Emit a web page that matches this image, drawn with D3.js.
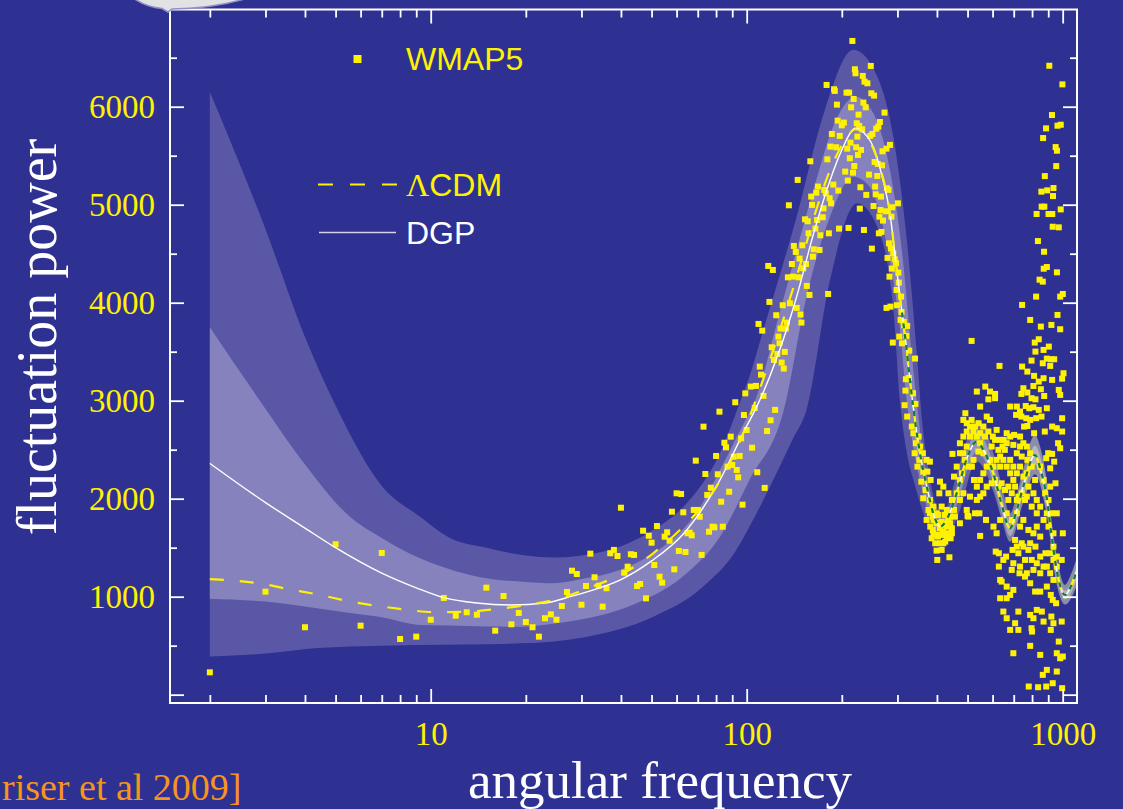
<!DOCTYPE html>
<html>
<head>
<meta charset="utf-8">
<script src="https://cdn.jsdelivr.net/npm/d3@7"></script>
<style>
  html, body { margin: 0; padding: 0; background: #2e3192; }
  svg { display: block; }
</style>
</head>
<body>
<svg id="chart" width="1123" height="809"></svg>
<script>
// ---------------- data ----------------
// WMAP5 band powers, one value per multipole for l = 2..100
const lowEll = d3.range(2, 101);
const wmapLowPower = [228,1051,688,1535,704,1446,568,592,765,987,806,841,816,1092,653,1007,718,834,742,688,
  592,780,820,765,905,1048,1265,1231,918,1109,1439,1198,1112,898,1086,1443,1477,1415,1908,1245,
  1306,1433,1426,1109,1130,1673,983,1622,1551,1323,1721,1204,1143,1612,1657,1571,1867,1279,2055,1466,
  2048,1861,1456,1647,1653,1626,1885,2388,1885,1816,1426,2735,2252,2038,1663,2112,1714,1708,2436,2249,
  2888,1969,1714,2571,2524,2327,2071,2633,2344,2429,2984,2293,2218,2436,2616,1939,2854,3075,2701];

// WMAP5 [l, power] around the first acoustic peak
const wmapPeak = [[216,6671],[247,6416],[220,6382],[221,6341],[233,6314],[241,6239],[236,6256],[179,6222],[189,6178],[190,6161],
  [207,6144],[211,6144],[248,6137],[253,6113],[218,6079],[234,6042],[193,6021],[238,5994],[214,5994],[273,5940],[226,5919],
  [194,5858],[203,5838],[223,5831],[227,5804],[200,5810],[264,5844],[261,5797],[257,5776],[250,5722],[246,5702],[186,5722],
  [197,5702],[224,5695],[232,5770],[213,5633],[184,5593],[192,5586],[208,5572],[222,5586],[230,5559],[284,5610],[277,5572],
  [269,5545],[180,5463],[159,5443],[212,5474],[225,5508],[254,5436],[260,5416],[268,5402],[219,5395],[205,5338],[217,5327],
  [244,5307],[259,5293],[209,5246],[145,5253],[168,5185],[176,5151],[188,5205],[229,5178],[255,5185],[278,5168],[281,5151],
  [166,5123],[178,5117],[183,5066],[160,5083],[195,5144],[239,5100],[256,5106],[266,5083],[136,4994],[161,4998],[175,4963],
  [185,5014],[301,5014],[289,4974],[252,4987],[265,4946],[276,4933],[287,4878],[153,4851],[156,4831],[167,4844],[174,4872],
  [228,4960],[263,4878],[270,4838],[157,4708],[165,4756],[171,4688],[182,4708],[196,4756],[210,4763],[235,4742],[262,4708],
  [267,4722],[282,4606],[141,4579],[150,4586],[163,4545],[170,4538],[143,4518],[286,4555],[291,4504],[249,4552],[162,4470],
  [147,4450],[279,4457],[294,4443],[297,4402],[139,4395],[154,4395],[117,4375],[121,4334],[151,4351],[288,4348],[140,4266],
  [146,4259],[135,4259],[283,4266],[302,4307],[155,4171],[158,4079],[181,4089],[303,4205],[298,4130],[118,4008],[130,3974],
  [137,3994],[144,3947],[308,4062],[277,3947],[285,3960],[299,3974],[124,3872],[148,3879],[309,3906],[307,3824],[314,3804],
  [109,3783],[134,3797],[149,3797],[315,3770],[112,3715],[128,3736],[133,3736],[322,3763],[320,3661],[304,3654],[290,3593],
  [310,3586],[126,3654],[120,3545],[127,3586],[132,3498],[125,3477],[122,3416],[327,3511],[341,3430],[129,3389],[110,3348],
  [131,3328],[111,3266],[319,3219],[326,3232],[103,3144],[107,3151],[113,3049],[318,3103],[336,3076],[106,2926],[123,2906],
  [316,2954],[342,2967],[104,2520],[108,2270],[114,2110],[116,2690],[119,2800]];

// WMAP5 [l, power] beyond the first peak
const wmapHigh = [
  [322,2838],[333,2736],[337,2668],[350,2634],[343,2566],[354,2532],[340,2464],[361,2464],[352,2396],[371,2396],[380,2378],
  [347,2327],[362,2276],[373,2276],[357,2174],[382,2191],[368,2089],[362,2004],[380,1987],[376,1885],[371,1783],[388,1817],
  [381,1715],[390,1647],[385,1596],[403,1613],[419,1630],[435,1647],[409,1698],[430,1715],[446,1698],[399,1470],[414,1477],
  [438,1402],[401,1375],[424,1834],[440,1817],[414,1919],[430,1885],[407,2055],[419,2123],[435,2055],[409,2174],[453,1885],
  [446,1987],[390,1919],[399,1851],[385,1885],[404,1749],[419,1545],[380,1851],[390,1783],[399,1749],[414,1766],[424,1732],
  [440,1749],[388,1681],[401,1630],[418,1664],[430,1613],[442,1596],[395,1545],[409,1545],[425,1562],[446,1647],[404,1834],
  [435,1783],
  [515,3610],[631,3355],[535,3093],[548,2940],[569,3144],[582,3014],[589,3093],[611,3069],[611,3025],
  [448,2457],[453,2225],[462,2327],[473,2191],[480,2259],[490,2396],[497,2532],[509,2634],[497,2770],[492,2872],[509,2736],
  [522,2685],[535,2634],[548,2668],[542,2770],[561,2736],[575,2838],[589,2804],[601,2634],[618,2702],[634,2600],[645,2532],
  [656,2498],[651,2600],[665,2566],[682,2940],[702,2651],[698,2549],[716,2464],[733,2532],[751,2566],[770,2532],[773,2396],
  [789,2464],[473,2464],[485,2464],[473,2566],[485,2634],[503,2327],[516,2327],[524,2191],[535,2123],[548,2191],[561,2259],
  [575,2327],[589,2396],[604,2327],[618,2396],[634,2327],[649,2396],[665,2327],[682,2396],[698,2327],[716,2259],[733,2327],
  [751,2225],[770,2259],[462,2055],[473,1987],[485,2055],[497,1885],[509,2021],[535,1987],[548,2021],[561,2055],[575,2123],
  [596,2157],[611,2191],[626,2123],[641,2157],[657,2089],[673,2123],[690,2055],[707,2123],[724,2021],[742,2055],[760,1987],
  [779,2123],[798,1919],[808,2055],[828,1987],[828,1851],[849,1919],[870,1783],[891,1851],[902,1715],[935,1647],[958,1851],
  [456,1817],[473,1749],[503,1817],[528,1851],[545,1851],[572,1783],[604,1715],[618,1647],[634,1783],[665,1851],[690,1783],
  [716,1851],[733,1715],[751,1783],[779,1681],[808,1647],[828,1715],[849,1613],[500,1824],[548,1620],
  [485,2804],[497,2685],[515,2804],[528,2736],[548,2566],[568,2634],[582,2685],[596,2532],[611,2600],[626,2498],[522,2396],
  [541,2481],[561,2464],[634,2430],[682,2259],[698,2191],[673,1987],[716,1987],[770,2021],[798,2327],[818,2191],[665,2668],
  [682,2634],[733,2634],[742,2430],[849,2327],[870,2191],[880,2055],[913,2123],[924,1851],[902,1987],
  [865,4215],[824,4062],[982,4062],[1001,4089],[744,3977],[789,3824],[963,3875],[853,3756],[921,3773],[982,3729],[816,3593],
  [840,3627],[870,3518],[820,3501],[904,3552],[917,3423],[940,3423],[891,3429],[797,3409],[865,3382],[913,3355],[744,3348],
  [773,3297],[812,3253],[870,3229],[926,3212],[1006,3280],[996,3225],[840,3195],[808,3150],[853,3117],[874,3048],[751,3127],
  [773,3083],[740,3069],[797,3025],[820,3014],[972,3110],[982,3059],[716,2940],[733,2889],[764,2946],[784,2923],[808,2933],
  [840,2906],[891,2923],[712,2855],[740,2838],[767,2821],[789,2804],[824,2821],[857,2838],[755,2736],[773,2742],[812,2668],
  [878,2685],[926,2736],[958,2719],[996,2685],[996,2821],[967,2566],[982,2515],[926,2457],[900,2464],[887,2413],[913,2310],
  [940,2378],[949,2157],
  [614,1460],[628,1443],[649,1375],[662,1409],[694,1477],[716,1511],[751,1511],[789,1545],[820,1511],[849,1409],[882,1443],
  [891,1307],[698,1341],[733,1307],[770,1239],[808,1273],[849,1239],[913,1239],[935,1171],[628,1307],[634,1171],[641,1154],
  [665,1103],[682,1018],[634,984],[665,984],[698,1069],[730,1239],[760,1205],[789,1137],[818,1052],[849,1052],[891,1103],
  [917,1018],[930,967],[953,933],[921,797],[935,729],[993,746],[649,848],[665,780],[682,661],[707,729],[724,661],[724,848],
  [789,814],[808,780],[828,865],[859,848],[870,746],[800,644],[972,542],[698,423],[789,498],[958,423],[982,372],[1001,389],
  [849,406],[891,253],[865,202],[958,236],[781,83],[836,76],[887,83],[930,117],[996,66],[797,678],[917,661],[993,1375],
  [1001,1647],[935,1375],[958,1307],[707,1579],[742,1545],[779,1477],[724,1443],[760,1375],[798,1375],[690,1273],[828,1341],
  [870,1307],[913,1443],[935,1511],[958,1409],
  [907,6418],[998,6228],[925,5915],[886,5779],[963,5806],[986,5816],[867,5680],[950,5588],[959,5551],[954,5394],[878,5292],
  [935,5170],[856,5133],[893,5146],[932,5088],[858,4980],[875,4980],[986,4952],[827,4905],[902,4905],[927,4905],[930,4775],
  [972,4769],[835,4629],[873,4520],[871,4347],[891,4364],[959,4310],[845,4235]];

// DGP model spectrum [l, power]
const dgpCurve = [[2,2360],[3,1960],[4,1700],[5,1500],[7,1240],[9,1090],[11,990],[14,935],[18,915],[23,935],[28,1005],
  [35,1100],[40,1175],[50,1365],[63,1640],[80,2120],[100,2740],[107.6,2939],[125,3450],[143.9,4061],[162.6,4700],
  [183.5,5248],[200,5560],[221,5780],[240,5700],[251.6,5592],[270,5250],[284,4912],[298,4350],[310,3900],[320,3550],
  [328.6,3211],[336.5,2939],[353.4,2463],[370,2150],[394,1800],[409,1714],[430,1790],[461.7,2055],[500,2430],[534,2582],
  [565,2480],[603,2259],[640,1950],[681,1698],[715,1880],[750,2122],[817,2446],[850,2300],[889,2020],[920,1650],
  [957,1272],[1017,1017],[1060,1100],[1110,1270]];

// LCDM model spectrum [l, power]
const lcdmCurve = [[2,1180],[3,1125],[3.41,1088],[4.5,1015],[5.55,950],[7,900],[8.5,865],[10.2,841],[13,847],[16.2,874],
  [20.1,915],[25.7,983],[32,1096],[40.6,1238],[50.6,1443],[62.9,1714],[76.4,2020],[88.3,2361],[98.5,2701],[110,3120],
  [125,3640],[145,4300],[165,4920],[185,5380],[205,5660],[221,5770],[240,5690],[260,5450],[284,4912],[298,4350],
  [310,3900],[320,3550],[328.6,3211],[336.5,2939],[353.4,2463],[370,2150],[394,1800],[409,1714],[430,1790],[461.7,2055],
  [500,2430],[534,2582],[565,2480],[603,2259],[640,1950],[681,1698],[715,1880],[750,2122],[817,2446],[850,2300],
  [889,2020],[920,1650],[957,1272],[1017,1017],[1060,1100],[1110,1270]];

// variance bands: outer (wide) and inner (narrow) edges, [l, power]
const outerTop = [[2,6150],[3,4750],[4,3650],[5,2950],[7,2130],[9.25,1816],[11.5,1600],[15,1500],[20,1420],[24.5,1400],
  [35,1459],[50.6,1680],[64.6,1953],[82.3,2463],[95,2973],[102,3245],[112.9,3721],[143.9,4878],[175.5,5932],[217.6,6580],
  [258.7,6312],[292,5667],[321,4650],[345,3500],[360,2750],[375,2330],[390,2020],[410,1880],[430,1920],[460,2230],
  [500,2620],[534,2800],[570,2700],[603,2470],[640,2150],[681,1850],[715,2030],[750,2300],[817,2650],[850,2520],
  [889,2200],[920,1800],[957,1420],[1017,1120],[1060,1220],[1110,1400]];
const innerTop = [[2,3750],[2.88,3000],[4,2350],[5.55,1816],[7,1600],[9.25,1391],[12,1260],[15,1188],[20,1150],[24.5,1137],
  [30,1180],[39.7,1272],[50,1430],[57,1560],[63,1690],[72.7,1960],[82.3,2290],[92.7,2620],[102,2880],[105,2960],
  [127,3891],[162.6,5146],[191.6,5864],[221,6102],[251.6,5932],[284,5354],[313,4400],[331,3550],[345,3000],[360,2500],
  [380,2080],[400,1830],[415,1790],[440,1930],[470,2200],[534,2680],[603,2360],[640,2040],[681,1770],[750,2200],
  [817,2540],[889,2110],[957,1340],[1017,1060],[1110,1320]];
const innerBottom = [[2,980],[3,950],[4,900],[5.55,833],[7,790],[9.25,711],[11.5,705],[15,695],[19.2,694],[25,730],
  [31.3,780],[44.8,933],[64.6,1239],[82.3,1612],[102,2191],[131,2905],[154.6,4061],[183.5,4878],[217.6,5286],[245,5184],
  [277,4606],[305.6,3728],[321,3000],[340,2450],[360,2080],[380,1820],[405,1660],[430,1700],[460,1920],[534,2480],
  [603,2170],[640,1870],[681,1620],[750,2040],[817,2350],[889,1930],[957,1200],[1017,970],[1110,1180]];
const outerBottom = [[2,390],[3,420],[4.36,475],[6,495],[9.25,507],[19.2,524],[31.3,592],[50.6,796],[72.7,1102],
  [92.7,1477],[102,1714],[125,2277],[140,2611],[154.6,2905],[183.5,4231],[223.5,5014],[258.7,4776],[292,3891],
  [305.6,3000],[320,2500],[340,2150],[360,1880],[385,1660],[410,1600],[440,1650],[470,1860],[534,2380],[603,2080],
  [640,1800],[681,1560],[750,1960],[817,2250],[889,1850],[957,1130],[1017,920],[1110,1120]];

// axis ticks
const yMajorTicks = [0,1000,2000,3000,4000,5000,6000];
const yMinorTicks = [500,1500,2500,3500,4500,5500,6500];
const xMajorTicks = [10,100,1000];
const xMinorTicks = [2,3,4,5,6,7,8,9,20,30,40,50,60,70,80,90,200,300,400,500,600,700,800,900];

// ---------------- drawing ----------------
const svg = d3.select('#chart');
const plot = { left: 170, right: 1077, top: 9.5, bottom: 703 };

const x = d3.scaleLog().domain([1.496, 1110]).range([plot.left, plot.right]);
const y = d3.scaleLinear().domain([-85, 6992]).range([plot.bottom, plot.top]);

const YELLOW = '#fff200';

svg.append('rect').attr('width', 1123).attr('height', 809).attr('fill', '#2e3192');

const defs = svg.append('defs');
defs.append('clipPath').attr('id', 'plotClip')
  .append('rect')
  .attr('x', plot.left).attr('y', plot.top)
  .attr('width', plot.right - plot.left).attr('height', plot.bottom - plot.top);

function hGradient(id, c0, c1) {
  const g = defs.append('linearGradient').attr('id', id)
    .attr('gradientUnits', 'userSpaceOnUse')
    .attr('x1', x(430)).attr('x2', x(800)).attr('y1', 0).attr('y2', 0);
  g.append('stop').attr('offset', 0).attr('stop-color', c0);
  g.append('stop').attr('offset', 1).attr('stop-color', c1);
}
hGradient('outerFill', '#5a57a6', '#8d8da3');
hGradient('innerFill', '#8682be', '#b6b6c0');

const edge = d3.line().x(d => x(d[0])).y(d => y(d[1])).curve(d3.curveMonotoneX);
function bandPath(top, bottom) {
  const a = edge(top);
  const b = edge(bottom.slice().reverse());
  return a + 'L' + b.slice(1) + 'Z';
}

const plotG = svg.append('g').attr('clip-path', 'url(#plotClip)');

plotG.append('path').attr('d', bandPath(outerTop, outerBottom)).attr('fill', 'url(#outerFill)');
plotG.append('path').attr('d', bandPath(innerTop, innerBottom)).attr('fill', 'url(#innerFill)');

// data points
const wmapAll = lowEll.map((l, i) => [l, wmapLowPower[i]]).concat(wmapPeak, wmapHigh);
const S = 6;
plotG.append('g').selectAll('rect').data(wmapAll).join('rect')
  .attr('x', d => x(d[0]) - S / 2)
  .attr('y', d => y(d[1]) - S / 2)
  .attr('width', S).attr('height', S)
  .attr('fill', YELLOW);

// model curves
const curve = d3.line().x(d => x(d[0])).y(d => y(d[1])).curve(d3.curveMonotoneX);
plotG.append('path').attr('d', curve(dgpCurve))
  .attr('fill', 'none').attr('stroke', '#ffffff').attr('stroke-width', 1.4);
plotG.append('path').attr('d', curve(lcdmCurve))
  .attr('fill', 'none').attr('stroke', YELLOW).attr('stroke-width', 2.2)
  .attr('stroke-dasharray', '14,16');
plotG.append('path').attr('d', curve(lcdmCurve.filter(d => d[0] >= 300)))
  .attr('fill', 'none').attr('stroke', '#127a3c').attr('stroke-width', 2.2)
  .attr('stroke-dasharray', '5,6');

// axes
function styleAxis(g) {
  g.select('.domain').remove();
  g.selectAll('.tick line').attr('stroke', '#ffffff').attr('stroke-width', 1.8);
  g.selectAll('.tick text').attr('fill', YELLOW)
    .attr('font-family', '"Liberation Serif", "Times New Roman", serif')
    .attr('font-size', 33);
}
const yFmt = d => (d === 0 ? '' : d3.format('d')(d));
const xFmt = d3.format('d');

svg.append('g').attr('transform', `translate(${plot.left},0)`)
  .call(d3.axisLeft(y).tickValues(yMajorTicks).tickSize(-14).tickPadding(15).tickFormat(yFmt)).call(styleAxis);
svg.append('g').attr('transform', `translate(${plot.left},0)`)
  .call(d3.axisLeft(y).tickValues(yMinorTicks).tickSize(-7).tickFormat('')).call(styleAxis);
svg.append('g').attr('transform', `translate(${plot.right},0)`)
  .call(d3.axisRight(y).tickValues(yMajorTicks).tickSize(-14).tickFormat('')).call(styleAxis);
svg.append('g').attr('transform', `translate(${plot.right},0)`)
  .call(d3.axisRight(y).tickValues(yMinorTicks).tickSize(-7).tickFormat('')).call(styleAxis);

svg.append('g').attr('transform', `translate(0,${plot.bottom})`)
  .call(d3.axisBottom(x).tickValues(xMajorTicks).tickSize(-14).tickPadding(19).tickFormat(xFmt)).call(styleAxis);
svg.append('g').attr('transform', `translate(0,${plot.bottom})`)
  .call(d3.axisBottom(x).tickValues(xMinorTicks).tickSize(-8).tickFormat('')).call(styleAxis);
svg.append('g').attr('transform', `translate(0,${plot.top})`)
  .call(d3.axisTop(x).tickValues(xMajorTicks).tickSize(-14).tickFormat('')).call(styleAxis);
svg.append('g').attr('transform', `translate(0,${plot.top})`)
  .call(d3.axisTop(x).tickValues(xMinorTicks).tickSize(-8).tickFormat('')).call(styleAxis);

// frame
svg.append('rect')
  .attr('x', plot.left).attr('y', plot.top)
  .attr('width', plot.right - plot.left).attr('height', plot.bottom - plot.top)
  .attr('fill', 'none').attr('stroke', '#ffffff').attr('stroke-width', 2);

// speech bubble edge peeking in at the top
svg.append('path')
  .attr('d', 'M133,-2 Q146,7 162,8.5 L168,12 L172,9 Q214,8.5 248,-2 Z')
  .attr('fill', '#e2e2e4').attr('stroke', '#8f8fc8').attr('stroke-width', 1.5);

// legend
const sans = '"Liberation Sans", Arial, Helvetica, sans-serif';
const serif = '"Liberation Serif", "Times New Roman", serif';
const legend = svg.append('g');
legend.append('rect').attr('x', 353.5).attr('y', 55).attr('width', 8).attr('height', 8).attr('fill', YELLOW);
legend.append('text').attr('x', 406).attr('y', 70).text('WMAP5')
  .attr('fill', YELLOW).attr('font-family', sans).attr('font-size', 32);

legend.append('line').attr('x1', 318).attr('x2', 397).attr('y1', 184.5).attr('y2', 184.5)
  .attr('stroke', YELLOW).attr('stroke-width', 2.2).attr('stroke-dasharray', '15,17');
const lcdmText = legend.append('text').attr('x', 406).attr('y', 196)
  .attr('fill', YELLOW).attr('font-family', sans).attr('font-size', 32);
lcdmText.append('tspan').attr('font-family', serif).text('Λ');
lcdmText.append('tspan').text('CDM');

legend.append('line').attr('x1', 319).attr('x2', 396).attr('y1', 232.5).attr('y2', 232.5)
  .attr('stroke', '#d4d4e6').attr('stroke-width', 1.4);
legend.append('text').attr('x', 406).attr('y', 244).text('DGP')
  .attr('fill', '#ffffff').attr('font-family', sans).attr('font-size', 32);

// axis titles
svg.append('text').attr('x', 660).attr('y', 798).attr('text-anchor', 'middle')
  .attr('fill', '#ffffff').attr('font-family', serif).attr('font-size', 53)
  .text('angular frequency');
svg.append('text').attr('transform', 'translate(56,337) rotate(-90)').attr('text-anchor', 'middle')
  .attr('fill', '#ffffff').attr('font-family', serif).attr('font-size', 56)
  .text('fluctuation power');

// citation, as much of it as fits in the lower-left corner
svg.append('text').attr('x', 2).attr('y', 800).attr('text-anchor', 'start')
  .attr('fill', '#f7941d').attr('font-family', serif).attr('font-size', 38)
  .text('riser et al 2009]');
</script>
</body>
</html>
